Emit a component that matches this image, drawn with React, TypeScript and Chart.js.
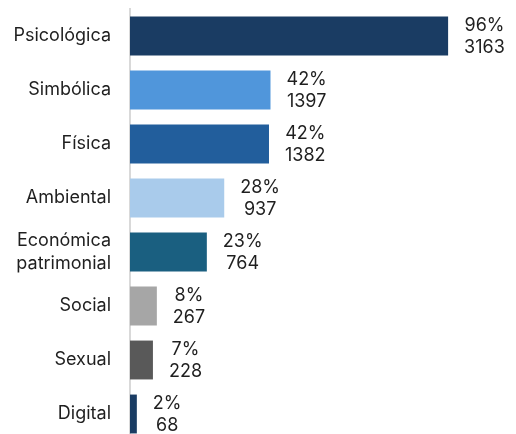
import React, { useEffect, useRef } from "react";
import { Chart, registerables } from "chart.js";

Chart.register(...registerables);

const categories: (string | string[])[] = [
  "Psicológica",
  "Simbólica",
  "Física",
  "Ambiental",
  ["Económica", "patrimonial"],
  "Social",
  "Sexual",
  "Digital",
];
const counts = [3163, 1397, 1382, 937, 764, 267, 228, 68];
const percents = ["96%", "42%", "42%", "28%", "23%", "8%", "7%", "2%"];
const colors = [
  "#1a3c63",
  "#5096db",
  "#225e9c",
  "#a9cbeb",
  "#1a5f80",
  "#a6a6a6",
  "#595959",
  "#1a3c63",
];

const FONT = "Inter, 'Noto Sans', sans-serif";

const valueLabels = {
  id: "valueLabels",
  afterDatasetsDraw(chart: any) {
    const { ctx } = chart;
    const meta = chart.getDatasetMeta(0);
    ctx.save();
    ctx.font = `18px ${FONT}`;
    ctx.fillStyle = "#1f1f1f";
    ctx.textAlign = "center";
    ctx.textBaseline = "middle";
    meta.data.forEach((bar: any, i: number) => {
      const l1 = percents[i];
      const l2 = String(counts[i]);
      const w = Math.max(ctx.measureText(l1).width, ctx.measureText(l2).width);
      const cx = bar.x + 16 + w / 2;
      ctx.fillText(l1, cx, bar.y - 10);
      ctx.fillText(l2, cx, bar.y + 12);
    });
    ctx.restore();
  },
};

export default function App() {
  const ref = useRef<HTMLCanvasElement>(null);
  useEffect(() => {
    if (!ref.current) return;
    const chart = new Chart(ref.current, {
      type: "bar",
      data: {
        labels: categories as any,
        datasets: [
          {
            data: counts,
            backgroundColor: colors,
            barPercentage: 0.72,
            categoryPercentage: 1,
          },
        ],
      },
      options: {
        indexAxis: "y",
        responsive: false,
        animation: false,
        layout: { padding: { top: 9, right: 34, bottom: 0, left: 0 } },
        plugins: { legend: { display: false }, tooltip: { enabled: false } },
        scales: {
          x: {
            display: false,
            min: 0,
            max: 3500,
          },
          y: {
            grid: { display: false, drawTicks: false },
            border: { display: true, color: "#d9d9d9", width: 2 },
            ticks: {
              padding: 19,
              color: "#1f1f1f",
              font: { family: FONT, size: 18, lineHeight: 1.28 },
            },
            afterFit: (scale: any) => {
              scale.width = 130;
              scale.paddingTop = 0;
              scale.paddingBottom = 0;
            },
          },
        },
      },
      plugins: [valueLabels],
    });
    return () => chart.destroy();
  }, []);
  return (
    <div style={{ position: "fixed", left: 0, top: 0, width: 516, height: 441, background: "#fff" }}>
      <canvas ref={ref} width={516} height={441} style={{ display: "block" }} />
    </div>
  );
}
